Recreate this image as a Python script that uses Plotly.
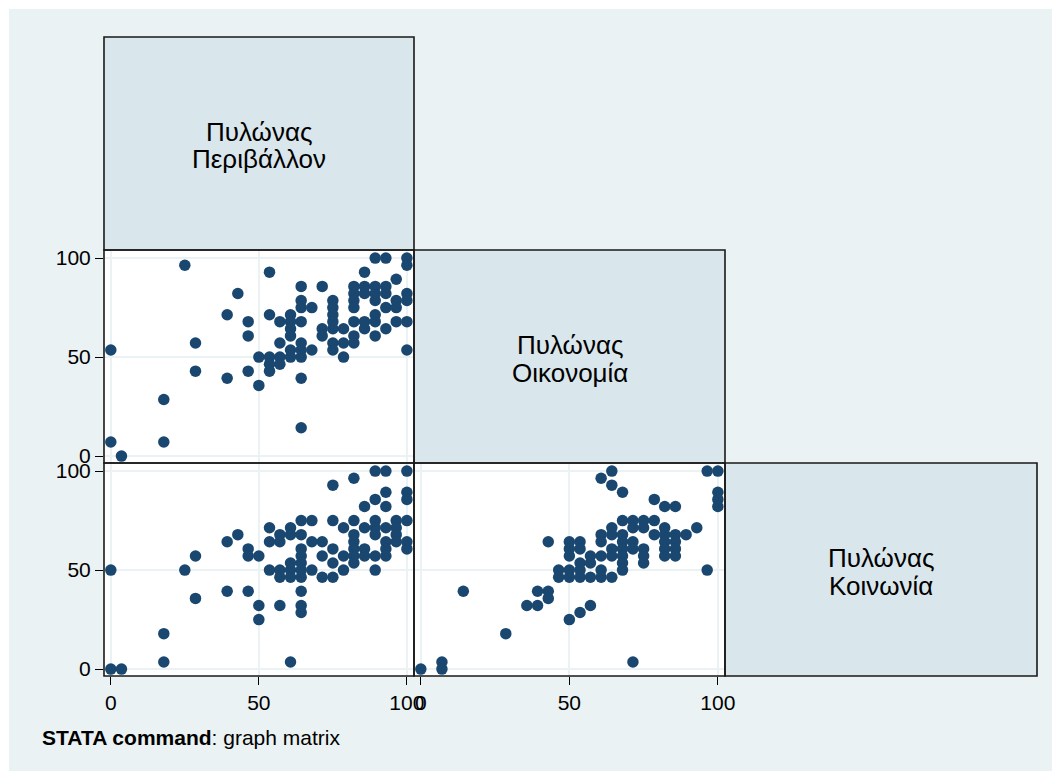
import plotly.graph_objects as go

W, H = 1052, 771

# ---------------- data ----------------
label_top = ["Πυλώνας", "Πυλώνας", "Πυλώνας"]
label_bottom = ["Περιβάλλον", "Οικονομία", "Κοινωνία"]
tick_vals = [0, 50, 100]
tick_text = ["0", "50", "100"]
caption = "<b>STATA command</b>: graph matrix"

# Panel: Περιβάλλον (x) vs Οικονομία (y)
env_a = [0, 0, 3.6, 17.9, 17.9, 25, 28.6, 28.6, 39.3, 39.3, 42.9, 46.4, 46.4, 46.4, 50, 50,
         53.6, 53.6, 53.6, 53.6, 53.6,
         57.1, 57.1, 57.1, 57.1,
         60.7, 60.7, 60.7, 60.7, 60.7, 60.7,
         64.3, 64.3, 64.3, 64.3, 64.3, 64.3, 64.3, 64.3, 64.3,
         67.9, 67.9,
         71.4, 71.4, 71.4,
         75, 75, 75, 75, 75, 75, 75,
         78.6, 78.6, 78.6,
         82.1, 82.1, 82.1, 82.1, 82.1, 82.1, 82.1,
         85.7, 85.7, 85.7, 85.7, 85.7,
         89.3, 89.3, 89.3, 89.3, 89.3, 89.3, 89.3,
         92.9, 92.9, 92.9, 92.9, 92.9,
         96.4, 96.4, 96.4, 96.4,
         100, 100, 100, 100, 100, 100]
econ_a = [53.6, 7.1, 0, 28.6, 7.1, 96.4, 57.1, 42.9, 71.4, 39.3, 82.1, 67.9, 60.7, 42.9, 50, 35.7,
          92.9, 71.4, 50, 46.4, 42.9,
          67.9, 57.1, 50, 46.4,
          71.4, 67.9, 64.3, 60.7, 53.6, 50,
          85.7, 78.6, 75, 67.9, 57.1, 53.6, 50, 39.3, 14.3,
          75, 53.6,
          85.7, 64.3, 60.7,
          78.6, 75, 71.4, 67.9, 64.3, 57.1, 53.6,
          64.3, 57.1, 50,
          85.7, 82.1, 78.6, 75, 67.9, 60.7, 57.1,
          92.9, 85.7, 82.1, 67.9, 64.3,
          100, 85.7, 82.1, 78.6, 71.4, 67.9, 60.7,
          100, 85.7, 82.1, 75, 64.3,
          89.3, 78.6, 75, 67.9,
          100, 96.4, 82.1, 78.6, 67.9, 53.6]

# Panel: Περιβάλλον (x) vs Κοινωνία (y)
env_b = [0, 0, 3.6, 17.9, 17.9, 25, 28.6, 28.6, 39.3, 39.3, 42.9, 46.4, 46.4, 46.4, 50, 50, 50,
         53.6, 53.6, 53.6,
         57.1, 57.1, 57.1, 57.1, 57.1,
         60.7, 60.7, 60.7, 60.7, 60.7, 60.7,
         64.3, 64.3, 64.3, 64.3, 64.3, 64.3, 64.3, 64.3, 64.3, 64.3,
         67.9, 67.9, 67.9,
         71.4, 71.4, 71.4,
         75, 75, 75, 75, 75,
         78.6, 78.6, 78.6,
         82.1, 82.1, 82.1, 82.1, 82.1, 82.1, 82.1,
         85.7, 85.7, 85.7, 85.7,
         89.3, 89.3, 89.3, 89.3, 89.3, 89.3, 89.3,
         92.9, 92.9, 92.9, 92.9, 92.9, 92.9, 92.9,
         96.4, 96.4, 96.4, 96.4,
         100, 100, 100, 100, 100, 100]
soc_b = [50, 0, 0, 17.9, 3.6, 50, 57.1, 35.7, 64.3, 39.3, 67.9, 60.7, 57.1, 39.3, 57.1, 32.1, 25,
         71.4, 64.3, 50,
         67.9, 64.3, 50, 46.4, 32.1,
         71.4, 67.9, 53.6, 50, 46.4, 3.6,
         75, 67.9, 60.7, 57.1, 53.6, 50, 46.4, 39.3, 32.1, 28.6,
         75, 64.3, 50,
         64.3, 57.1, 46.4,
         92.9, 75, 60.7, 53.6, 46.4,
         71.4, 57.1, 50,
         96.4, 75, 67.9, 64.3, 60.7, 57.1, 53.6,
         82.1, 71.4, 60.7, 57.1,
         100, 85.7, 75, 71.4, 67.9, 57.1, 50,
         100, 89.3, 82.1, 71.4, 64.3, 60.7, 57.1,
         75, 71.4, 67.9, 64.3,
         100, 89.3, 85.7, 75, 64.3, 60.7]

# Panel: Οικονομία (x) vs Κοινωνία (y)
econ_c = [0, 7.1, 7.1, 14.3, 28.6, 35.7, 39.3, 39.3, 42.9, 42.9, 42.9,
          46.4, 46.4,
          50, 50, 50, 50, 50, 50,
          53.6, 53.6, 53.6, 53.6, 53.6, 53.6,
          57.1, 57.1, 57.1, 57.1,
          60.7, 60.7, 60.7, 60.7, 60.7, 60.7,
          64.3, 64.3, 64.3, 64.3, 64.3, 64.3, 64.3,
          67.9, 67.9, 67.9, 67.9, 67.9, 67.9, 67.9, 67.9,
          71.4, 71.4, 71.4, 71.4, 71.4,
          75, 75, 75, 75, 75,
          78.6, 78.6, 78.6,
          82.1, 82.1, 82.1, 82.1, 82.1, 82.1,
          85.7, 85.7, 85.7, 85.7, 85.7,
          89.3, 92.9,
          96.4, 96.4,
          100, 100, 100, 100]
soc_c = [0, 3.6, 0, 39.3, 17.9, 32.1, 32.1, 39.3, 39.3, 35.7, 64.3,
         50, 46.4,
         64.3, 60.7, 57.1, 50, 46.4, 25,
         64.3, 60.7, 53.6, 50, 46.4, 28.6,
         57.1, 53.6, 46.4, 32.1,
         96.4, 67.9, 64.3, 57.1, 50, 46.4,
         100, 92.9, 71.4, 67.9, 60.7, 57.1, 46.4,
         89.3, 75, 67.9, 64.3, 60.7, 57.1, 53.6, 50,
         75, 71.4, 64.3, 60.7, 3.6,
         75, 71.4, 60.7, 57.1, 53.6,
         85.7, 75, 67.9,
         82.1, 71.4, 67.9, 64.3, 60.7, 57.1,
         82.1, 67.9, 64.3, 60.7, 57.1,
         67.9, 71.4,
         100, 50,
         100, 89.3, 85.7, 82.1]

# ---------------- styling / layout ----------------
NAVY = "#1A476F"
REGION = "#EAF2F3"
LABELBOX = "#D9E6EB"
GRID = "#EAF2F3"
FONT = "Liberation Sans, Arial, sans-serif"

cols = [(104, 414), (414, 725), (725, 1037)]
rows = [(37, 250), (250, 463), (463, 676)]


def fx(p):
    return p / W


def fy(p):
    return 1 - p / H


def xdom(c):
    return [fx(cols[c][0]), fx(cols[c][1])]


def ydom(r):
    return [fy(rows[r][1]), fy(rows[r][0])]


fig = go.Figure()
marker = dict(color=NAVY, size=11.5, line=dict(width=0))
fig.add_trace(go.Scatter(x=env_a, y=econ_a, mode="markers", marker=marker, xaxis="x", yaxis="y",
                         showlegend=False))
fig.add_trace(go.Scatter(x=env_b, y=soc_b, mode="markers", marker=marker, xaxis="x2", yaxis="y2",
                         showlegend=False))
fig.add_trace(go.Scatter(x=econ_c, y=soc_c, mode="markers", marker=marker, xaxis="x3", yaxis="y3",
                         showlegend=False))

XR = [-2.3, 102.4]
YR = [-3.5, 104.1]
tickfont = dict(family=FONT, size=21, color="#000000")


def axis(domain, rng, anchor, show):
    return dict(domain=domain, range=rng, anchor=anchor, tickvals=tick_vals, ticktext=tick_text,
                showgrid=True, gridcolor=GRID, gridwidth=2, zeroline=False, showline=False,
                ticks="outside" if show else "", ticklen=8, tickwidth=1, tickcolor="#000000",
                showticklabels=show, tickfont=tickfont, fixedrange=True, automargin=False)


fig.update_layout(
    width=W, height=H,
    margin=dict(l=0, r=0, t=0, b=0, pad=0),
    paper_bgcolor=REGION,
    plot_bgcolor="white",
    xaxis=axis(xdom(0), XR, "y", False),
    yaxis=axis(ydom(1), YR, "x", True),
    xaxis2=axis(xdom(0), XR, "y2", True),
    yaxis2=axis(ydom(2), YR, "x2", True),
    xaxis3=axis(xdom(1), XR, "y3", True),
    yaxis3=axis(ydom(2), YR, "x3", False),
    font=dict(family=FONT, color="#000000"),
)

# white outer strip (top / left) around the light graph region
shapes = [
    dict(type="rect", xref="paper", yref="paper", x0=0, x1=1, y0=fy(9), y1=1,
         fillcolor="white", line=dict(width=0), layer="below"),
    dict(type="rect", xref="paper", yref="paper", x0=0, x1=fx(9), y0=0, y1=1,
         fillcolor="white", line=dict(width=0), layer="below"),
]
# diagonal label boxes
for i in range(3):
    c0, c1 = cols[i]
    r0, r1 = rows[i]
    shapes.append(dict(type="rect", xref="paper", yref="paper", x0=fx(c0), x1=fx(c1), y0=fy(r1), y1=fy(r0),
                       fillcolor=LABELBOX, line=dict(width=0), layer="below"))
# borders of all panels
for (ri, ci) in [(0, 0), (1, 0), (1, 1), (2, 0), (2, 1), (2, 2)]:
    c0, c1 = cols[ci]
    r0, r1 = rows[ri]
    shapes.append(dict(type="rect", xref="paper", yref="paper", x0=fx(c0), x1=fx(c1), y0=fy(r1), y1=fy(r0),
                       line=dict(color="#1a1a1a", width=1.6), fillcolor="rgba(0,0,0,0)", layer="above"))
fig.update_layout(shapes=shapes)

LSIZE = 26
annotations = []
for i in range(3):
    c0, c1 = cols[i]
    r0, r1 = rows[i]
    cx = (c0 + c1) / 2
    cy = (r0 + r1) / 2
    for txt, dy in ((label_top[i], -12), (label_bottom[i], 16)):
        annotations.append(dict(xref="paper", yref="paper", x=fx(cx), y=fy(cy + dy),
                                text=txt, showarrow=False, xanchor="center", yanchor="middle",
                                font=dict(family=FONT, size=LSIZE, color="#000000")))
annotations.append(dict(xref="paper", yref="paper", x=fx(40), y=fy(737), text=caption, showarrow=False,
                        xanchor="left", yanchor="middle", font=dict(family=FONT, size=21, color="#000000")))
fig.update_layout(annotations=annotations)

post = ("document.documentElement.style.margin='0';document.documentElement.style.padding='0';"
        "document.documentElement.style.overflow='hidden';"
        "document.body.style.margin='0';document.body.style.padding='0';document.body.style.overflow='hidden';"
        "var gd=document.getElementById('{plot_id}');gd.style.position='fixed';"
        "gd.style.left='0px';gd.style.top='0px';")
fig.write_html("out.html", post_script=post)
